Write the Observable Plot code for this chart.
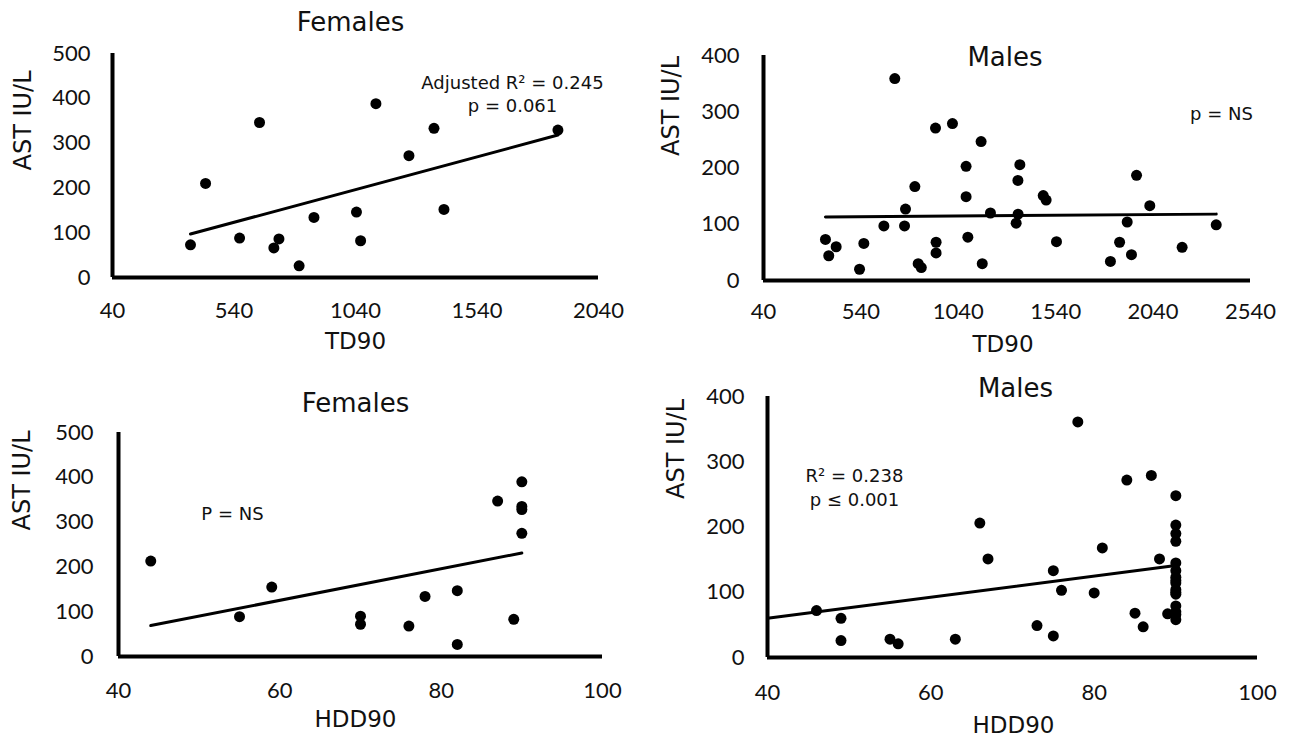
<!DOCTYPE html>
<html>
<head>
<meta charset="utf-8">
<script src="https://cdn.jsdelivr.net/npm/d3@7"></script>
<script src="https://cdn.jsdelivr.net/npm/@observablehq/plot@0.6"></script>
<style>
  body { margin: 0; background: #fff; }
  #root { position: relative; width: 1293px; height: 739px; overflow: hidden; background: #fff; }
  .panel { position: absolute; }
</style>
</head>
<body>
<div id="root"></div>
<script>
// ---------- Data ----------
// Females: TD90 vs AST
const femaleTD90 = [361, 423, 563, 645, 704, 725, 808, 869, 1044, 1061, 1124, 1260, 1363, 1404, 1873];
const femaleTD90AST = [73, 210, 88, 346, 66, 86, 26, 134, 146, 82, 388, 272, 333, 152, 329];
const femaleTD90TrendX = [361, 1873];
const femaleTD90TrendY = [97, 318];

// Males: TD90 vs AST
const maleTD90 = [358, 413, 375, 533, 555, 658, 714, 769, 764, 817, 834, 850, 923, 926, 926, 1010, 1080, 1080, 1089, 1157, 1163, 1205, 1356, 1346, 1347, 1337, 1476, 1491, 1544, 1821, 1868, 1907, 1929, 1955, 2023, 2189, 2364];
const maleTD90AST = [73, 60, 44, 20, 66, 97, 359, 127, 97, 167, 30, 23, 271, 68, 49, 279, 203, 149, 77, 247, 30, 120, 206, 178, 118, 102, 151, 143, 69, 34, 68, 104, 46, 187, 133, 59, 99];
const maleTD90TrendX = [358, 2364];
const maleTD90TrendY = [113, 118];

// Females: HDD90 vs AST
const femaleHDD90 = [44, 55, 59, 70, 70, 76, 78, 82, 82, 87, 89, 90, 90, 90, 90];
const femaleHDD90AST = [213, 89, 155, 90, 72, 68, 134, 147, 27, 347, 83, 390, 335, 328, 275];
const femaleHDD90TrendX = [44, 90];
const femaleHDD90TrendY = [69, 231];

// Males: HDD90 vs AST
const maleHDD90 = [46, 49, 49, 55, 56, 63, 66, 67, 73, 75, 75, 76, 78, 80, 81, 84, 85, 86, 87, 88, 89,
                   90, 90, 90, 90, 90, 90, 90, 90, 90, 90, 90, 90, 90, 90, 90, 90];
const maleHDD90AST = [72, 60, 26, 28, 21, 28, 206, 151, 49, 133, 33, 103, 361, 99, 168, 272, 68, 47, 279, 151, 67,
                      248, 203, 190, 178, 145, 133, 123, 118, 114, 104, 100, 97, 79, 70, 66, 58];
const maleHDD90TrendX = [40, 90];
const maleHDD90TrendY = [60, 141];

// Tick labels
const tdTicksFemale = [40, 540, 1040, 1540, 2040];
const tdTicksMale = [40, 540, 1040, 1540, 2040, 2540];
const hddTicks = [40, 60, 80, 100];
const astTicks500 = [0, 100, 200, 300, 400, 500];
const astTicks400 = [0, 100, 200, 300, 400];

// Texts
const titles = ["Females", "Males", "Females", "Males"];
const xTitles = ["TD90", "TD90", "HDD90", "HDD90"];
const yTitle = "AST IU/L";
const notes = ["Adjusted R² = 0.245\np = 0.061", "p = NS", "P = NS", "R² = 0.238\np ≤ 0.001"];

// ---------- Layout ----------
const panels = [
  {left: 0, top: 0, width: 640, height: 370, ml: 112, mr: 42, mt: 53, mb: 93,
   xs: femaleTD90, ys: femaleTD90AST, tx: femaleTD90TrendX, ty: femaleTD90TrendY,
   xDomain: [40, 2040], xTicks: tdTicksFemale, yDomain: [0, 500], yTicks: astTicks500,
   xPad: 25, yPad: 22,
   title: titles[0], tDx: -5, tDy: -31,
   xTitle: xTitles[0], xtDx: 0, xtDy: 64,
   ytDx: -89, ytDy: 5,
   note: notes[0], nDx: 400, nDy: 40, nLh: 1.24},
  {left: 640, top: 0, width: 653, height: 370, ml: 123, mr: 43, mt: 55, mb: 90,
   xs: maleTD90, ys: maleTD90AST, tx: maleTD90TrendX, ty: maleTD90TrendY,
   xDomain: [40, 2540], xTicks: tdTicksMale, yDomain: [0, 400], yTicks: astTicks400,
   xPad: 23, yPad: 24,
   title: titles[1], tDx: -2, tDy: 2,
   xTitle: xTitles[1], xtDx: -4, xtDy: 64,
   ytDx: -92, ytDy: -12,
   note: notes[1], nDx: 458, nDy: 58, nLh: 1.2},
  {left: 0, top: 370, width: 640, height: 369, ml: 118, mr: 38, mt: 62, mb: 83,
   xs: femaleHDD90, ys: femaleHDD90AST, tx: femaleHDD90TrendX, ty: femaleHDD90TrendY,
   xDomain: [40, 100], xTicks: hddTicks, yDomain: [0, 500], yTicks: astTicks500,
   xPad: 26, yPad: 25,
   title: titles[2], tDx: -5, tDy: -29,
   xTitle: xTitles[2], xtDx: -5, xtDy: 63,
   ytDx: -96, ytDy: -14,
   note: notes[2], nDx: 114, nDy: 81, nLh: 1.2},
  {left: 640, top: 370, width: 653, height: 369, ml: 127, mr: 36, mt: 26, mb: 82,
   xs: maleHDD90, ys: maleHDD90AST, tx: maleHDD90TrendX, ty: maleHDD90TrendY,
   xDomain: [40, 100], xTicks: hddTicks, yDomain: [0, 400], yTicks: astTicks400,
   xPad: 27, yPad: 23,
   title: titles[3], tDx: 3, tDy: -8,
   xTitle: xTitles[3], xtDx: 1, xtDy: 68,
   ytDx: -91, ytDy: -28,
   note: notes[3], nDx: 87, nDy: 90, nLh: 1.29}
];

const ink = "#111";
const labelFont = "DejaVu Sans";
const root = document.getElementById("root");

for (const p of panels) {
  const pts = p.xs.map((x, i) => ({x, y: p.ys[i]}));
  const trend = p.tx.map((x, i) => ({x, y: p.ty[i]}));
  const chart = Plot.plot({
    width: p.width,
    height: p.height,
    marginLeft: p.ml, marginRight: p.mr, marginTop: p.mt, marginBottom: p.mb,
    style: {fontFamily: "Lato", fontSize: "22px", color: ink, background: "transparent", overflow: "visible"},
    x: {domain: p.xDomain, ticks: p.xTicks, tickSize: 0, tickPadding: p.xPad, tickFormat: d => String(d), label: null},
    y: {domain: p.yDomain, ticks: p.yTicks, tickSize: 0, tickPadding: p.yPad, tickFormat: d => String(d), label: null},
    marks: [
      Plot.ruleX([p.xDomain[0]], {stroke: "black", strokeWidth: 4}),
      Plot.ruleY([p.yDomain[0]], {stroke: "black", strokeWidth: 4}),
      Plot.line(trend, {x: "x", y: "y", stroke: "black", strokeWidth: 3}),
      Plot.dot(pts, {x: "x", y: "y", r: 5.5, fill: "black", stroke: "none"}),
      Plot.text([p.title], {text: d => d, frameAnchor: "top", lineAnchor: "middle", dx: p.tDx, dy: p.tDy,
        fontSize: 26, fontFamily: labelFont, fill: ink}),
      Plot.text([p.xTitle], {text: d => d, frameAnchor: "bottom", lineAnchor: "middle", dx: p.xtDx, dy: p.xtDy,
        fontSize: 23, fontFamily: labelFont, fill: ink}),
      Plot.text([yTitle], {text: d => d, frameAnchor: "left", lineAnchor: "middle", rotate: -90, dx: p.ytDx, dy: p.ytDy,
        fontSize: 24, fontFamily: labelFont, fill: ink}),
      Plot.text([p.note], {text: d => d, frameAnchor: "top-left", textAnchor: "middle", lineAnchor: "middle",
        dx: p.nDx, dy: p.nDy, lineHeight: p.nLh, fontSize: 18, fontFamily: labelFont, fill: ink})
    ]
  });
  const wrap = document.createElement("div");
  wrap.className = "panel";
  wrap.style.left = p.left + "px";
  wrap.style.top = p.top + "px";
  wrap.appendChild(chart);
  root.appendChild(wrap);
}
</script>
</body>
</html>
